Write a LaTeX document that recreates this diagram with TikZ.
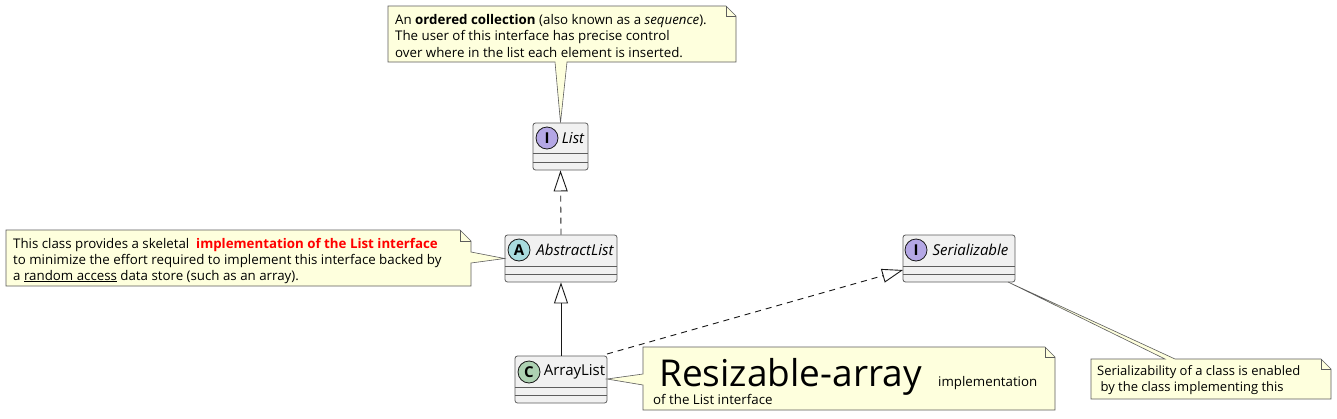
\documentclass[tikz,border=0pt]{standalone}
\usepackage{fontspec}
\setmainfont{Open Sans}
\usetikzlibrary{arrows.meta}
\definecolor{boxfill}{HTML}{F1F1F1}
\definecolor{boxline}{HTML}{181818}
\definecolor{notefill}{HTML}{FEFFDD}
\definecolor{ifc}{HTML}{B4A7E5}
\definecolor{absc}{HTML}{A9DCDF}
\definecolor{clsc}{HTML}{ADD1B2}
\definecolor{redtxt}{HTML}{FF0000}
\tikzset{
  classbox/.style={draw=boxline!70, fill=boxfill, line width=0.8pt, rounded corners=2.5pt, inner sep=0pt},
  compline/.style={draw=boxline!70, line width=0.8pt},
  spot/.style={circle, draw=boxline, line width=0.8pt, minimum size=22pt, inner sep=0pt, font=\fontsize{15}{15}\selectfont\bfseries},
  cname/.style={inner sep=0pt, font=\fontsize{15}{15}\selectfont},
  notebody/.style={draw=boxline!70, fill=notefill, line width=0.6pt},
  notetext/.style={inner sep=0pt, anchor=base west, font=\fontsize{13.3}{13.3}\selectfont},
  rel/.style={draw=boxline, line width=0.9pt},
  dashrel/.style={rel, dash pattern=on 6pt off 5pt},
  inh/.style={-{Triangle[open, length=21pt, width=14pt, line width=0.9pt]}}
}
\begin{document}
\begin{tikzpicture}[x=1pt,y=-1pt]
\useasboundingbox (0,0) rectangle (1337,418);
\fill[white] (0,0) rectangle (1337,418);

% ---------- classes ----------
\node[classbox, minimum width=55pt, minimum height=47pt] (list) at (560.5,146.5) {};
\draw[compline] (list.west |- 0,153) -- (list.east |- 0,153);
\draw[compline] (list.west |- 0,162) -- (list.east |- 0,162);
\node[spot, fill=ifc] (lists) at (547,138) {I};
\node[cname, font=\fontsize{15}{15}\selectfont\itshape] (listn) at (573,138) {List};

\node[classbox, minimum width=112pt, minimum height=47pt] (abs) at (561,258.5) {};
\draw[compline] (abs.west |- 0,266) -- (abs.east |- 0,266);
\draw[compline] (abs.west |- 0,274) -- (abs.east |- 0,274);
\node[spot, fill=absc] (abss) at (519,250) {A};
\node[cname, font=\fontsize{15}{15}\selectfont\itshape] (absn) at (575,250) {AbstractList};

\node[classbox, minimum width=112pt, minimum height=47pt] (ser) at (959,258.5) {};
\draw[compline] (ser.west |- 0,266) -- (ser.east |- 0,266);
\draw[compline] (ser.west |- 0,274) -- (ser.east |- 0,274);
\node[spot, fill=ifc] (sers) at (916,250) {I};
\node[cname, font=\fontsize{15}{15}\selectfont\itshape] (sern) at (970.5,250) {Serializable};

\node[classbox, minimum width=92pt, minimum height=47pt] (arr) at (561,379.5) {};
\draw[compline] (arr.west |- 0,387) -- (arr.east |- 0,387);
\draw[compline] (arr.west |- 0,395) -- (arr.east |- 0,395);
\node[spot, fill=clsc] (arrs) at (529,372) {C};
\node[cname] (arrn) at (574.5,372) {ArrayList};

% ---------- relations ----------
\draw[dashrel, inh] (abs.north) -- (list.south);
\draw[rel, inh] (arr.north) -- (abs.south);
\coordinate (arrc) at (607,354);
\coordinate (serc) at (903,270);
\draw[dashrel, inh] (arrc) -- (serc);

% ---------- notes ----------
% top note
\coordinate (tipList) at (list.north);
\draw[notebody] (388,6) -- (726,6) -- (736,16) -- (736,62) -- (567,62) -- (tipList) -- (555,62) -- (388,62) -- cycle;
\draw[notebody, fill=none] (726,6) -- (726,16) -- (736,16);
\node[notetext] (n1a) at (395,24) {An \textbf{ordered collection} (also known as a \textit{sequence}).};
\node[notetext] (n1b) at (395,40.5) {The user of this interface has precise control};
\node[notetext] (n1c) at (395,57) {over where in the list each element is inserted.};

% left note
\coordinate (tipAbs) at (abs.west);
\draw[notebody] (6,230) -- (460,230) -- (471,241) -- (471,252) -- (tipAbs) -- (471,263) -- (471,286) -- (6,286) -- cycle;
\draw[notebody, fill=none] (460,230) -- (460,241) -- (471,241);
\node[notetext] (n2a) at (13,248) {This class provides a skeletal \ \textcolor{redtxt}{\textbf{implementation of the List interface}}};
\node[notetext] (n2b) at (13,264) {to minimize the effort required to implement this interface backed by};
\node[notetext] (n2c) at (13,280) {a \underline{random access} data store (such as an array).};

% resizable note
\coordinate (tipArr) at (607,379);
\draw[notebody] (643,347) -- (1045,347) -- (1055,357) -- (1055,410) -- (643,410) -- (643,385) -- (tipArr) -- (643,374) -- cycle;
\draw[notebody, fill=none] (1045,347) -- (1045,357) -- (1055,357);
\node[notetext, font=\fontsize{37}{37}\selectfont] (n3a) at (659,386) {Resizable-array};
\node[notetext] (n3b) at (938,386) {implementation};
\node[notetext] (n3c) at (653,404) {of the List interface};

% serializable note
\coordinate (tipSer) at (1008,282);
\draw[notebody] (1091,359) -- (1165,359) -- (tipSer) -- (1175,359) -- (1321,359) -- (1331,369) -- (1331,399) -- (1091,399) -- cycle;
\draw[notebody, fill=none] (1321,359) -- (1321,369) -- (1331,369);
\node[notetext, font=\fontsize{13}{13}\selectfont] (n4a) at (1097,375) {Serializability of a class is enabled};
\node[notetext, font=\fontsize{13}{13}\selectfont] (n4b) at (1097,391) {\ by the class implementing this};
\end{tikzpicture}
\end{document}
